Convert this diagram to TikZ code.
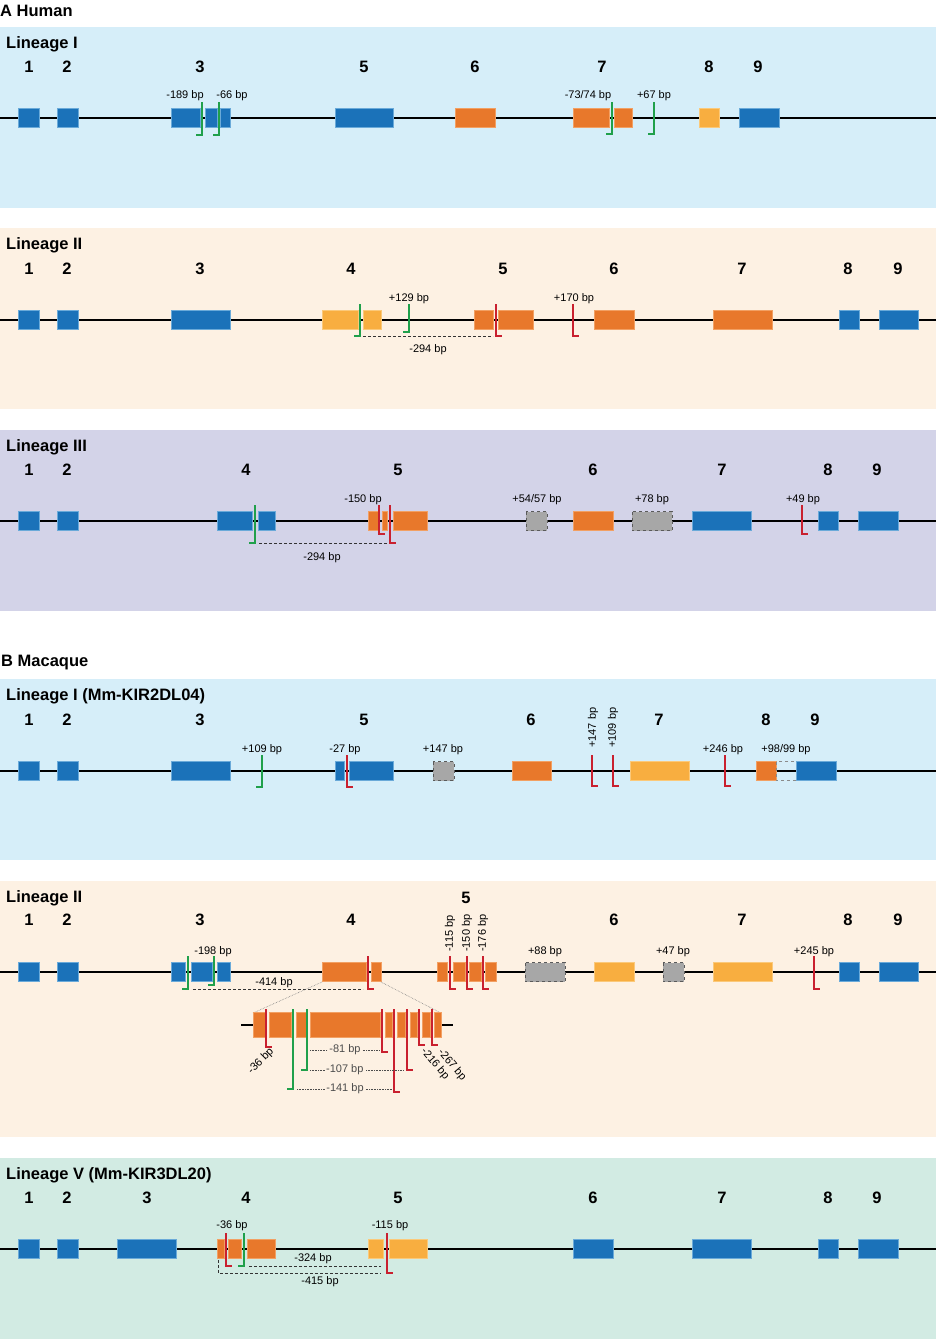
\documentclass[tikz,border=0pt]{standalone}
\usepackage{fontspec}
\setmainfont{Liberation Sans}
\usepackage{xcolor}
\usepackage{tikz}
\usetikzlibrary{positioning}

\definecolor{exblue}{HTML}{1B72B9}
\definecolor{exblueedge}{HTML}{6AAAD9}
\definecolor{exorange}{HTML}{E8782B}
\definecolor{exorangeedge}{HTML}{F2A063}
\definecolor{exlight}{HTML}{F8AE40}
\definecolor{exlightedge}{HTML}{FBC97A}
\definecolor{exgray}{HTML}{A7A7A7}
\definecolor{exgrayedge}{HTML}{5A5A5A}
\definecolor{mkgreen}{HTML}{20A04B}
\definecolor{mkred}{HTML}{C9202F}
\definecolor{bgblue}{HTML}{D6EEF9}
\definecolor{bgpeach}{HTML}{FDF1E3}
\definecolor{bglav}{HTML}{D3D3E8}
\definecolor{bgmint}{HTML}{D2EBE3}

\tikzset{
  gene/.style={line width=1.4pt, black},
  exb/.style={fill=exblue, draw=exblueedge, line width=0.7pt},
  exo/.style={fill=exorange, draw=exorangeedge, line width=0.7pt},
  exl/.style={fill=exlight, draw=exlightedge, line width=0.7pt},
  exg/.style={fill=exgray, draw=exgrayedge, dashed, line width=0.7pt},
  exw/.style={draw=exgrayedge!70, dashed, line width=0.7pt},
  gmk/.style={draw=mkgreen, line width=1.3pt, preaction={draw=white, line width=2.8pt}},
  rmk/.style={draw=mkred, line width=1.3pt, preaction={draw=white, line width=2.8pt}},
  bp/.style={font=\fontsize{11}{13}\selectfont, anchor=base, inner sep=0pt},
  bpv/.style={bp, rotate=90, anchor=west},
  exnum/.style={font=\fontsize{16.5}{18}\selectfont\bfseries, anchor=base, inner sep=0pt},
  title/.style={font=\fontsize{16.5}{18}\selectfont\bfseries, anchor=base west, inner sep=0pt},
  span/.style={line width=0.8pt, dash pattern=on 3pt off 2pt, black!80},
  fine/.style={line width=0.6pt, densely dotted, black!70},
  zoomline/.style={line width=0.6pt, densely dotted, gray}
}

\newcommand{\exh}{9.5}
\newcommand{\exon}[3][exb]{\path[#1] (#2,-\exh) rectangle (#3,\exh);}
\newcommand{\gmark}[3]{\coordinate (#1) at (#2,#3); \draw[gmk] (#2,-16) -- (#1) -- ++(-6,0);}
\newcommand{\rmark}[3]{\coordinate (#1) at (#2,#3); \draw[rmk] (#2,-16) -- (#1) -- ++(6,0);}

\begin{document}
\begin{tikzpicture}[x=1pt, y=-1pt]
\useasboundingbox (0,0) rectangle (936,1339);

\node[title] (hum) at (0,16) {A Human};
\node[title] (mac) at (1,666) {B Macaque};

% Human, lineage I
\begin{scope}[shift={(0,118)}]
  \fill[bgblue] (0,-91) rectangle (936,90);
  \node[title] (h1t) at (6,-70) {Lineage I};
  \draw[gene] (0,0) -- (936,0);
  \exon{18}{39} \exon{57}{78} \exon{171}{200} \exon{205}{217} \exon{220}{230}
  \exon{335}{393} \exon[exo]{455}{495} \exon[exo]{573}{609} \exon[exo]{614}{632}
  \exon[exl]{699}{719} \exon{739}{779}
  \gmark{h1m1}{202}{17} \gmark{h1m2}{219}{17}
  \gmark{h1m3}{612}{16} \gmark{h1m4}{654}{16}
  \node[bp] (h1l1) at (185,-20) {-189 bp};
  \node[bp] (h1l2) at (232,-20) {-66 bp};
  \node[bp] (h1l3) at (588,-20) {-73/74 bp};
  \node[bp] (h1l4) at (654,-20) {+67 bp};
  \node[exnum] (h1e1) at (29,-46) {1}; \node[exnum] (h1e2) at (67,-46) {2};
  \node[exnum] (h1e3) at (200,-46) {3}; \node[exnum] (h1e5) at (364,-46) {5};
  \node[exnum] (h1e6) at (475,-46) {6}; \node[exnum] (h1e7) at (602,-46) {7};
  \node[exnum] (h1e8) at (709,-46) {8}; \node[exnum] (h1e9) at (758,-46) {9};
\end{scope}

% Human, lineage II
\begin{scope}[shift={(0,320)}]
  \fill[bgpeach] (0,-92) rectangle (936,89);
  \node[title] (h2t) at (6,-71) {Lineage II};
  \draw[gene] (0,0) -- (936,0);
  \exon{18}{39} \exon{57}{78} \exon{171}{230}
  \exon[exl]{322}{358} \exon[exl]{363}{381}
  \exon[exo]{474}{493} \exon[exo]{498}{533} \exon[exo]{594}{634} \exon[exo]{713}{772}
  \exon{839}{859} \exon{879}{918}
  \gmark{h2m1}{360}{16} \gmark{h2m2}{409}{12}
  \rmark{h2m3}{496}{16} \rmark{h2m4}{573}{16}
  \draw[span] ([xshift=3pt]h2m1) -- ([xshift=-3pt]h2m3);
  \node[bp] (h2l1) at (409,-19) {+129 bp};
  \node[bp] (h2l2) at (574,-19) {+170 bp};
  \node[bp] (h2l3) at (428,32) {-294 bp};
  \node[exnum] (h2e1) at (29,-46) {1}; \node[exnum] (h2e2) at (67,-46) {2};
  \node[exnum] (h2e3) at (200,-46) {3}; \node[exnum] (h2e4) at (351,-46) {4};
  \node[exnum] (h2e5) at (503,-46) {5}; \node[exnum] (h2e6) at (614,-46) {6};
  \node[exnum] (h2e7) at (742,-46) {7}; \node[exnum] (h2e8) at (848,-46) {8};
  \node[exnum] (h2e9) at (898,-46) {9};
\end{scope}

% Human, lineage III
\begin{scope}[shift={(0,521)}]
  \fill[bglav] (0,-91) rectangle (936,90);
  \node[title] (h3t) at (6,-70) {Lineage III};
  \draw[gene] (0,0) -- (936,0);
  \exon{18}{39} \exon{57}{78} \exon{217}{252} \exon{258}{275}
  \exon[exo]{368}{378} \exon[exo]{382}{387} \exon[exo]{393}{427}
  \exon[exg]{526}{547} \exon[exo]{573}{613} \exon[exg]{632}{672}
  \exon{692}{751} \exon{818}{838} \exon{858}{898}
  \gmark{h3m1}{255}{22}
  \rmark{h3m2}{379}{13} \rmark{h3m3}{390}{22} \rmark{h3m4}{802}{13}
  \draw[span] ([xshift=4pt]h3m1) -- ([xshift=-3pt]h3m3);
  \node[bp] (h3l1) at (363,-19) {-150 bp};
  \node[bp] (h3l2) at (537,-19) {+54/57 bp};
  \node[bp] (h3l3) at (652,-19) {+78 bp};
  \node[bp] (h3l4) at (803,-19) {+49 bp};
  \node[bp] (h3l5) at (322,39) {-294 bp};
  \node[exnum] (h3e1) at (29,-46) {1}; \node[exnum] (h3e2) at (67,-46) {2};
  \node[exnum] (h3e4) at (246,-46) {4}; \node[exnum] (h3e5) at (398,-46) {5};
  \node[exnum] (h3e6) at (593,-46) {6}; \node[exnum] (h3e7) at (722,-46) {7};
  \node[exnum] (h3e8) at (828,-46) {8}; \node[exnum] (h3e9) at (877,-46) {9};
\end{scope}

% Macaque, lineage I
\begin{scope}[shift={(0,771)}]
  \fill[bgblue] (0,-92) rectangle (936,89);
  \node[title] (m1t) at (6,-71) {Lineage I (Mm-KIR2DL04)};
  \draw[gene] (0,0) -- (936,0);
  \exon{18}{39} \exon{57}{78} \exon{171}{230}
  \exon{335}{344} \exon{349}{393} \exon[exg]{433}{454}
  \exon[exo]{512}{551} \exon[exl]{630}{689}
  \exon[exo]{756}{776} \exon[exw]{776}{796} \exon{796}{836}
  \gmark{m1m1}{262}{16} \rmark{m1m2}{347}{16}
  \rmark{m1m3}{592}{15} \rmark{m1m4}{613}{15} \rmark{m1m5}{725}{15}
  \node[bp] (m1l1) at (262,-19) {+109 bp};
  \node[bp] (m1l2) at (345,-19) {-27 bp};
  \node[bp] (m1l3) at (443,-19) {+147 bp};
  \node[bpv] (m1l4) at (593,-23) {+147 bp};
  \node[bpv] (m1l5) at (613,-23) {+109 bp};
  \node[bp] (m1l6) at (723,-19) {+246 bp};
  \node[bp] (m1l7) at (786,-19) {+98/99 bp};
  \node[exnum] (m1e1) at (29,-46) {1}; \node[exnum] (m1e2) at (67,-46) {2};
  \node[exnum] (m1e3) at (200,-46) {3}; \node[exnum] (m1e5) at (364,-46) {5};
  \node[exnum] (m1e6) at (531,-46) {6}; \node[exnum] (m1e7) at (659,-46) {7};
  \node[exnum] (m1e8) at (766,-46) {8}; \node[exnum] (m1e9) at (815,-46) {9};
\end{scope}

% Macaque, lineage II
\begin{scope}[shift={(0,972)}]
  \fill[bgpeach] (0,-91) rectangle (936,165);
  \node[title] (m2t) at (6,-70) {Lineage II};
  \draw[gene] (0,0) -- (936,0);
  \exon{18}{39} \exon{57}{78} \exon{171}{185} \exon{191}{212} \exon{217}{230}
  \exon[exo]{322}{366} \exon[exo]{371}{381}
  \exon[exo]{437}{447} \exon[exo]{453}{465} \exon[exo]{469}{481} \exon[exo]{485}{496}
  \exon[exg]{525}{565} \exon[exl]{594}{634} \exon[exg]{663}{684} \exon[exl]{713}{772}
  \exon{839}{859} \exon{879}{918}
  \gmark{m2m1}{188}{17} \gmark{m2m2}{214}{13} \rmark{m2m3}{368}{17}
  \rmark{m2m4}{450}{17} \rmark{m2m5}{467}{17} \rmark{m2m6}{483}{17}
  \rmark{m2m7}{814}{17}
  \draw[span] ([xshift=5pt]m2m1) -- ([xshift=-5pt]m2m3);
  \node[bp] (m2l1) at (213,-18) {-198 bp};
  \node[bp] (m2l2) at (274,13) {-414 bp};
  \node[bpv] (m2l3) at (450,-20) {-115 bp};
  \node[bpv] (m2l4) at (467,-20) {-150 bp};
  \node[bpv] (m2l5) at (483,-20) {-176 bp};
  \node[bp] (m2l6) at (545,-18) {+88 bp};
  \node[bp] (m2l7) at (673,-18) {+47 bp};
  \node[bp] (m2l8) at (814,-18) {+245 bp};
  \node[exnum] (m2e1) at (29,-47) {1}; \node[exnum] (m2e2) at (67,-47) {2};
  \node[exnum] (m2e3) at (200,-47) {3}; \node[exnum] (m2e4) at (351,-47) {4};
  \node[exnum] (m2e5) at (466,-69) {5}; \node[exnum] (m2e6) at (614,-47) {6};
  \node[exnum] (m2e7) at (742,-47) {7}; \node[exnum] (m2e8) at (848,-47) {8};
  \node[exnum] (m2e9) at (898,-47) {9};
  % enlarged exon 4
  \coordinate (m2z1) at (322,10); \coordinate (m2z2) at (381,10);
  \coordinate (m2z3) at (253,41); \coordinate (m2z4) at (441,41);
  \draw[zoomline] (m2z1) -- (m2z3);
  \draw[zoomline] (m2z2) -- (m2z4);
  \begin{scope}[shift={(0,53)}]
    \renewcommand{\exh}{12.5}
    \draw[gene] (241,0) -- (253,0);
    \draw[gene] (441,0) -- (453,0);
    \exon[exo]{253}{265} \exon[exo]{269}{291} \exon[exo]{296}{306}
    \exon[exo]{310}{380} \exon[exo]{385}{392} \exon[exo]{397}{405}
    \exon[exo]{410}{417} \exon[exo]{422}{430} \exon[exo]{434}{441}
    \rmark{zm1}{266}{22} \gmark{zm2}{293}{64} \gmark{zm3}{307}{45}
    \rmark{zm4}{382}{27} \rmark{zm5}{394}{67} \rmark{zm6}{407}{45}
    \rmark{zm7}{419}{20} \rmark{zm8}{432}{20}
    \coordinate (zm81) at (310,25);
    \draw[fine] (zm81) -- node[bp, anchor=center, fill=bgpeach, inner sep=1.5pt] (zl2) {-81 bp} ([xshift=-2pt]zm81 -| zm4);
    \draw[fine] ([xshift=3pt]zm3) -- node[bp, anchor=center, fill=bgpeach, inner sep=1.5pt, pos=0.37] (zl3) {-107 bp} ([xshift=-3pt]zm6);
    \draw[fine] ([xshift=4pt]zm2) -- node[bp, anchor=center, fill=bgpeach, inner sep=1.5pt] (zl4) {-141 bp} ([xshift=-1pt]zm2 -| zm5);
    \node[bp, anchor=center, rotate=45] (zl1) at (261,36) {-36 bp};
    \node[bp, anchor=center, rotate=-50] (zl5) at (435,39) {-216 bp};
    \node[bp, anchor=center, rotate=-50] (zl6) at (452,40) {-267 bp};
  \end{scope}
\end{scope}

% Macaque, lineage V
\begin{scope}[shift={(0,1249)}]
  \fill[bgmint] (0,-91) rectangle (936,90);
  \node[title] (m5t) at (6,-70) {Lineage V (Mm-KIR3DL20)};
  \draw[gene] (0,0) -- (936,0);
  \exon{18}{39} \exon{57}{78} \exon{117}{176}
  \exon[exo]{217}{224} \exon[exo]{228}{241} \exon[exo]{247}{275}
  \exon[exl]{368}{383} \exon[exl]{389}{427}
  \exon{573}{613} \exon{692}{751} \exon{818}{838} \exon{858}{898}
  \rmark{m5m1}{226}{17} \gmark{m5m2}{244}{17} \rmark{m5m3}{387}{24}
  \draw[span] ([xshift=5pt]m5m2) -- ([xshift=-6pt]m5m2 -| m5m3);
  \coordinate (m5d) at (218,11);
  \draw[span] (m5d) |- ([xshift=-6pt]m5m3);
  \node[bp] (m5l1) at (232,-21) {-36 bp};
  \node[bp] (m5l2) at (390,-21) {-115 bp};
  \node[bp] (m5l3) at (313,12) {-324 bp};
  \node[bp] (m5l4) at (320,35) {-415 bp};
  \node[exnum] (m5e1) at (29,-46) {1}; \node[exnum] (m5e2) at (67,-46) {2};
  \node[exnum] (m5e3) at (147,-46) {3}; \node[exnum] (m5e4) at (246,-46) {4};
  \node[exnum] (m5e5) at (398,-46) {5}; \node[exnum] (m5e6) at (593,-46) {6};
  \node[exnum] (m5e7) at (722,-46) {7}; \node[exnum] (m5e8) at (828,-46) {8};
  \node[exnum] (m5e9) at (877,-46) {9};
\end{scope}
\end{tikzpicture}
\end{document}
